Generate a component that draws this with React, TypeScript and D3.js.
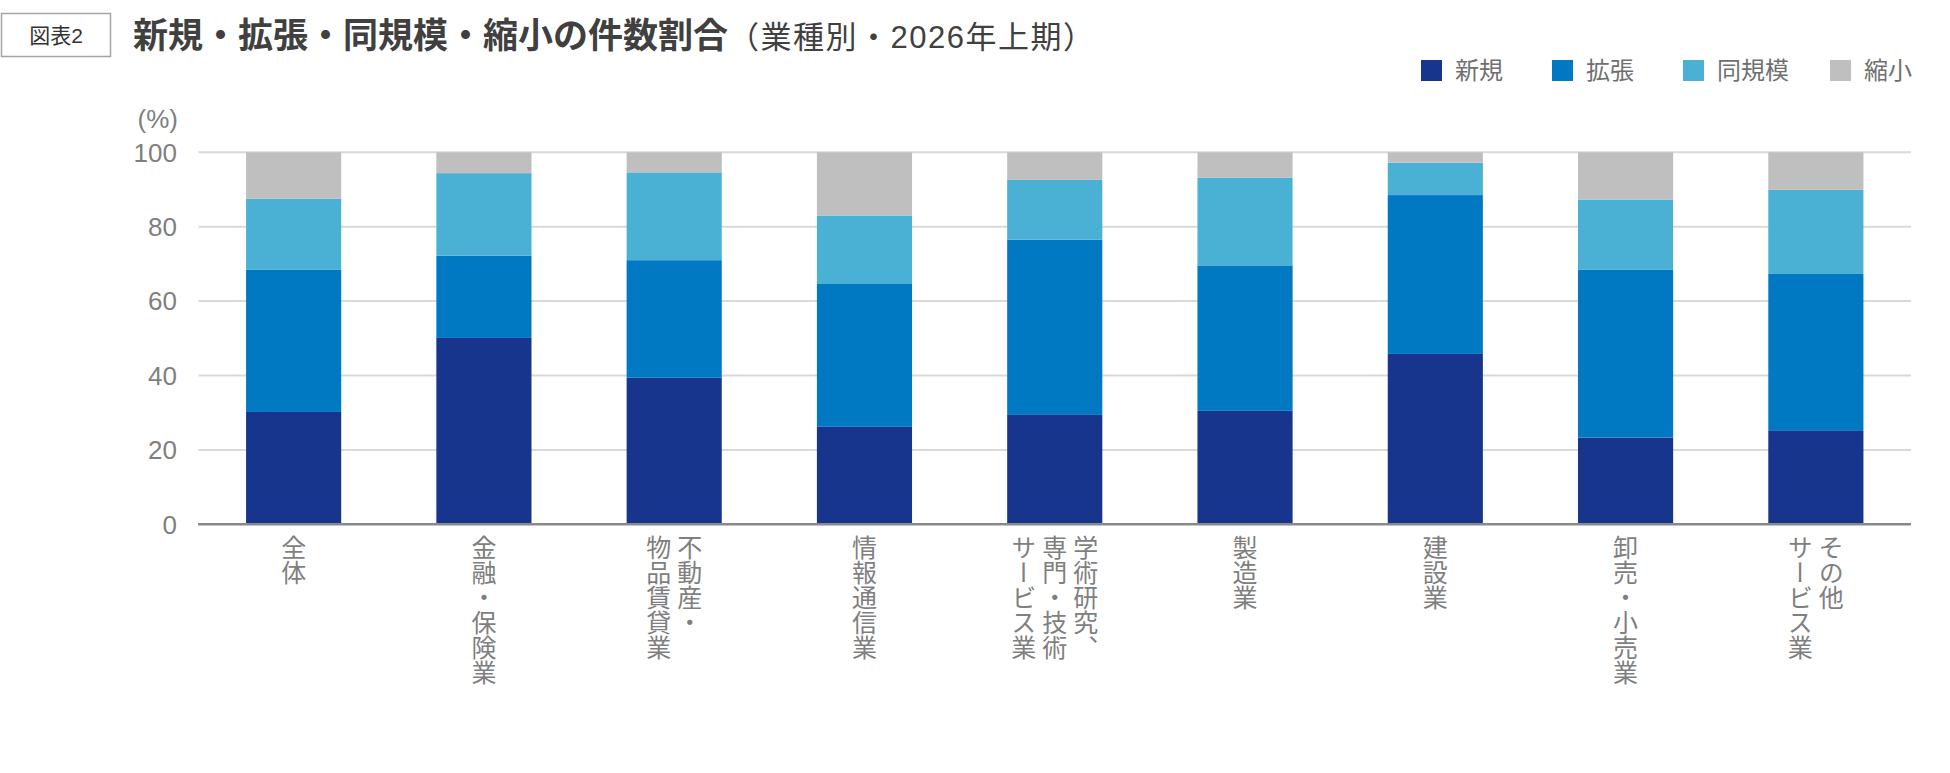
import React from 'react';
import * as d3 from 'd3';

// categories (x axis), each label broken into vertical columns (right to left)
const categories = [
  '全体',
  '金融・保険業',
  '不動産・物品賃貸業',
  '情報通信業',
  '学術研究、専門・技術サービス業',
  '製造業',
  '建設業',
  '卸売・小売業',
  'その他サービス業',
];
const categoryLines = [
  ['全体'],
  ['金融・保険業'],
  ['不動産・', '物品賃貸業'],
  ['情報通信業'],
  ['学術研究、', '専門・技術', 'サービス業'],
  ['製造業'],
  ['建設業'],
  ['卸売・小売業'],
  ['その他', 'サービス業'],
];

const seriesNames = ['新規', '拡張', '同規模', '縮小'];
const seriesColors = ['#17358d', '#0079c2', '#4ab1d4', '#bfbfbf'];

// % values
const shinki = [30.2, 50.1, 39.4, 26.2, 29.4, 30.5, 45.8, 23.3, 25.1];
const kakucho = [38.2, 22.1, 31.6, 38.4, 47.1, 39.1, 42.7, 45.1, 42.2];
const doukibo = [19.1, 22.2, 23.6, 18.4, 16.1, 23.6, 8.7, 18.9, 22.6];
const shukusho = [12.5, 5.6, 5.4, 17.0, 7.4, 6.8, 2.8, 12.7, 10.1];

const yTicks = [0, 20, 40, 60, 80, 100];

const W = 1950;
const H = 773;
const FONT = '"Liberation Sans", Arial, "Noto Sans CJK JP", sans-serif';
const JP = '"Noto Sans CJK JP", "Liberation Sans", sans-serif';

export default function App() {
  const rows = categories.map((c, i) => ({
    cat: c,
    新規: shinki[i],
    拡張: kakucho[i],
    同規模: doukibo[i],
    縮小: shukusho[i],
  }));
  const stacked = d3.stack<any>().keys(seriesNames)(rows);

  const x = d3.scaleBand().domain(categories).range([198.5, 1911]).paddingInner(0.5).paddingOuter(0.25);
  const y = d3.scaleLinear().domain([0, 100]).range([524.3, 152.3]);

  // legend layout (swatch left edges)
  const legendX = [1421, 1552, 1683, 1830];
  const legendFs = 24;

  return (
    <div style={{ position: 'absolute', left: 0, top: 0 }}>
      <svg width={W} height={H} style={{ display: 'block', background: '#fff' }}>
        {/* heading */}
        <rect x={1.5} y={13.5} width={109} height={43} fill="#fff" stroke="#a6a6a6" strokeWidth={1.5} />
        <text x={56} y={43} textAnchor="middle" fontSize={21} fill="#333" fontFamily={FONT}>
          図表2
        </text>
        <text x={133} y={48} fill="#404040" fontFamily={JP}>
          <tspan fontSize={35} fontWeight="bold">新規・拡張・同規模・縮小の件数割合</tspan>
          <tspan fontSize={31} fontFamily={FONT} letterSpacing={1.5}>（業種別・2026年上期）</tspan>
        </text>

        {/* legend */}
        {seriesNames.map((s, i) => (
          <g key={s}>
            <rect x={legendX[i]} y={60} width={21} height={21} fill={seriesColors[i]} />
            <text x={legendX[i] + 34} y={79} fontSize={legendFs} fill="#6f6f6f" fontFamily={JP}>
              {s}
            </text>
          </g>
        ))}

        {/* unit */}
        <text x={178} y={128} textAnchor="end" fontSize={26} fill="#7f7f7f" fontFamily={FONT}>
          (%)
        </text>

        {/* gridlines + y ticks */}
        {yTicks.map((t) => (
          <g key={t}>
            {t > 0 && (
              <line x1={198.5} x2={1911} y1={y(t)} y2={y(t)} stroke="#d9d9d9" strokeWidth={2} />
            )}
            <text
              x={177}
              y={y(t)}
              dy="0.36em"
              textAnchor="end"
              fontSize={26}
              fill="#7f7f7f"
              fontFamily={FONT}
            >
              {t}
            </text>
          </g>
        ))}

        {/* bars */}
        {stacked.map((layer, si) => (
          <g key={layer.key} fill={seriesColors[si]}>
            {layer.map((d, i) => (
              <rect
                key={i}
                x={x(categories[i])}
                width={x.bandwidth()}
                y={y(d[1])}
                height={y(d[0]) - y(d[1])}
              />
            ))}
          </g>
        ))}

        {/* x axis */}
        <line x1={198} x2={1911} y1={y(0)} y2={y(0)} stroke="#898989" strokeWidth={2.5} />

        {/* vertical category labels */}
        {categoryLines.map((lines, i) => {
          const cx = (x(categories[i]) as number) + x.bandwidth() / 2;
          const gap = 31;
          const n = lines.length;
          return (
            <g key={i}>
              {lines.map((ln, j) => (
                <text
                  key={j}
                  x={cx + ((n - 1) / 2 - j) * gap}
                  y={535}
                  fontSize={25}
                  fill="#7f7f7f"
                  fontFamily={JP}
                  style={{ writingMode: 'vertical-rl' as any }}
                >
                  {ln}
                </text>
              ))}
            </g>
          );
        })}
      </svg>
    </div>
  );
}
